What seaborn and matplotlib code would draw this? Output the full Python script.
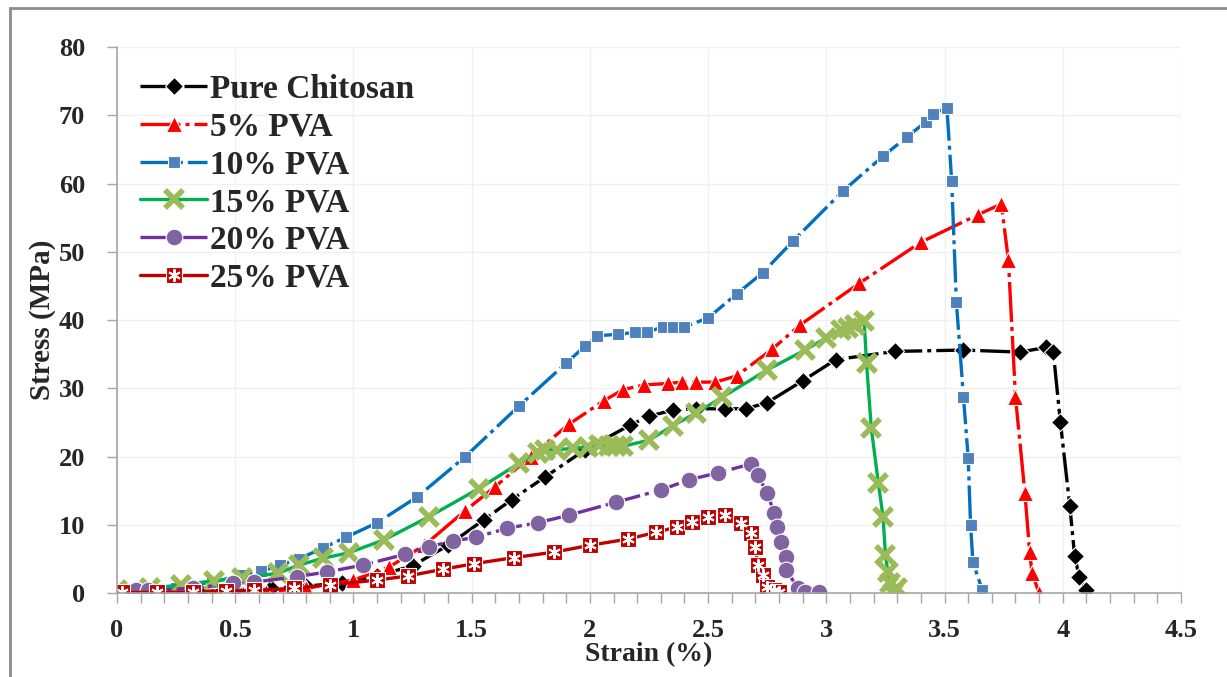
import numpy as np
import pandas as pd
import matplotlib
matplotlib.use("Agg")
import matplotlib.pyplot as plt
import seaborn as sns
from matplotlib.legend_handler import HandlerTuple
from matplotlib.ticker import MultipleLocator
import matplotlib.patches as mpatches

# ---------------- data ----------------
chitosan_x = [0, 0.1, 0.2, 0.35, 0.5, 0.65, 0.8, 0.95, 1.1, 1.25, 1.4, 1.55, 1.67, 1.81, 1.98, 2.17, 2.25, 2.35, 2.45, 2.57, 2.66, 2.75, 2.90, 3.04, 3.29, 3.58, 3.82, 3.93, 3.96, 3.99, 4.03, 4.05, 4.07, 4.10]
chitosan_y = [0, 0.1, 0.2, 0.3, 0.5, 0.7, 1.0, 1.5, 2.5, 4.0, 7.0, 10.7, 13.7, 17.0, 21.0, 24.6, 25.9, 26.8, 27.0, 27.0, 27.0, 27.9, 31.1, 34.2, 35.4, 35.6, 35.3, 36.0, 35.3, 25.0, 12.7, 5.5, 2.3, 0.4]

pva5_x = [0, 0.2, 0.4, 0.63, 0.8, 1.0, 1.15, 1.3, 1.47, 1.6, 1.75, 1.91, 2.06, 2.14, 2.23, 2.33, 2.39, 2.45, 2.53, 2.62, 2.77, 2.89, 3.14, 3.40, 3.64, 3.74, 3.77, 3.80, 3.84, 3.86, 3.87, 3.90]
pva5_y = [0, 0.05, 0.1, 0.2, 0.7, 1.9, 3.8, 7.0, 12.0, 15.6, 20.0, 24.7, 28.2, 29.8, 30.5, 30.7, 30.9, 30.9, 30.9, 31.8, 35.7, 39.3, 45.4, 51.4, 55.4, 57.0, 48.8, 28.7, 14.6, 6.0, 2.9, 0.0]

pva10_x = [0, 0.1, 0.25, 0.4, 0.53, 0.61, 0.69, 0.77, 0.87, 0.97, 1.10, 1.27, 1.47, 1.70, 1.90, 1.98, 2.03, 2.12, 2.19, 2.24, 2.31, 2.35, 2.40, 2.50, 2.62, 2.73, 2.86, 3.07, 3.24, 3.34, 3.42, 3.45, 3.51, 3.53, 3.55, 3.58, 3.60, 3.61, 3.62, 3.66]
pva10_y = [0, 0.3, 0.8, 1.6, 2.6, 3.2, 4.1, 5.0, 6.6, 8.2, 10.3, 14.1, 19.9, 27.4, 33.7, 36.2, 37.7, 37.9, 38.2, 38.2, 39.0, 39.0, 39.0, 40.3, 43.8, 46.9, 51.6, 58.9, 64.0, 66.8, 69.0, 70.2, 71.1, 60.4, 42.6, 28.7, 19.8, 10.0, 4.5, 0.4]

pva15_x = [0, 0.14, 0.27, 0.41, 0.53, 0.68, 0.77, 0.87, 0.98, 1.13, 1.32, 1.53, 1.70, 1.78, 1.81, 1.86, 1.93, 1.99, 2.04, 2.08, 2.11, 2.14, 2.25, 2.35, 2.45, 2.56, 2.75, 2.91, 3.00, 3.06, 3.09, 3.12, 3.16, 3.17, 3.19, 3.22, 3.24, 3.25, 3.26, 3.27, 3.30, 3.28]
pva15_y = [0.4, 0.7, 1.2, 1.8, 2.2, 2.9, 4.1, 5.1, 5.9, 7.8, 11.2, 15.3, 19.0, 20.5, 21.0, 21.0, 21.2, 21.4, 21.7, 21.5, 21.5, 21.5, 22.4, 24.5, 26.4, 28.7, 32.7, 35.6, 37.4, 38.5, 38.8, 39.2, 39.8, 33.7, 24.2, 16.1, 11.1, 5.6, 3.1, 1.4, 0.7, 0.0]

pva20_x = [0.08, 0.13, 0.32, 0.49, 0.58, 0.76, 0.89, 1.04, 1.22, 1.32, 1.42, 1.52, 1.65, 1.78, 1.91, 2.11, 2.30, 2.42, 2.54, 2.68, 2.71, 2.75, 2.78, 2.79, 2.81, 2.83, 2.83, 2.88, 2.91, 2.97]
pva20_y = [0.4, 0.4, 0.7, 1.4, 1.6, 2.4, 3.1, 4.1, 5.7, 6.8, 7.6, 8.2, 9.5, 10.3, 11.4, 13.3, 15.1, 16.6, 17.6, 18.9, 17.3, 14.6, 11.7, 9.7, 7.5, 5.3, 3.4, 0.7, 0.2, 0.2]

pva25_x = [0.02, 0.17, 0.32, 0.46, 0.58, 0.75, 0.90, 1.10, 1.23, 1.38, 1.51, 1.68, 1.85, 2.00, 2.16, 2.28, 2.37, 2.43, 2.50, 2.57, 2.64, 2.68, 2.70, 2.71, 2.73, 2.75, 2.78, 2.80]
pva25_y = [0.1, 0.1, 0.15, 0.3, 0.4, 0.7, 1.2, 1.9, 2.5, 3.5, 4.3, 5.2, 6.0, 7.0, 7.9, 8.9, 9.7, 10.4, 11.1, 11.4, 10.2, 8.8, 6.8, 4.1, 2.6, 0.9, 0.4, 0.1]

labels = ["Pure Chitosan", "5% PVA", "10% PVA", "15% PVA", "20% PVA", "25% PVA"]
x_ticks = [0, 0.5, 1, 1.5, 2, 2.5, 3, 3.5, 4, 4.5]
x_tick_labels = ["0", "0.5", "1", "1.5", "2", "2.5", "3", "3.5", "4", "4.5"]
y_ticks = [0, 10, 20, 30, 40, 50, 60, 70, 80]

# ---------------- style ----------------
sns.set_theme(style="white")
plt.rcParams['font.family'] = ['Liberation Serif', 'DejaVu Serif']
plt.rcParams['font.weight'] = 'bold'

fig = plt.figure(figsize=(12.27, 6.77), dpi=100)
ax = fig.add_axes([0.0954, 0.124, 0.9625 - 0.0954, 0.9306 - 0.124])

series = [
    dict(x=chitosan_x, y=chitosan_y, color="black", ls=(0, (9, 1.5, 1.2, 1.5)), marker="D", ms=9, mfc="black", mec="white", mew=0.8),
    dict(x=pva5_x, y=pva5_y, color="#FF0000", ls=(0, (12, 1.5, 1.2, 1.5)), marker="^", ms=12, mfc="#FF0000", mec="white", mew=0.8),
    dict(x=pva10_x, y=pva10_y, color="#0070C0", ls=(0, (10, 1.5, 1.2, 1.5)), marker="s", ms=9, mfc="#4F81BD", mec="white", mew=0.8),
    dict(x=pva15_x, y=pva15_y, color="#00B050", ls="-", marker="x", ms=13, mfc="#9BBB59", mec="#9BBB59", mew=4),
    dict(x=pva20_x, y=pva20_y, color="#7030A0", ls=(0, (8, 1.5, 1.2, 1.5)), marker="o", ms=12, mfc="#8064A2", mec="white", mew=0.8),
    dict(x=pva25_x, y=pva25_y, color="#C00000", ls="-", marker="s", ms=12, mfc="#C00000", mec="white", mew=0.8),
]

for s, lab in zip(series, labels):
    df = pd.DataFrame({"Strain": s["x"], "Stress": s["y"]})
    sns.lineplot(data=df, x="Strain", y="Stress", ax=ax, sort=False, estimator=None,
                 color=s["color"], linestyle=s["ls"], linewidth=2.4,
                 marker=s["marker"], markersize=s["ms"], markerfacecolor=s["mfc"],
                 markeredgecolor=s["mec"], markeredgewidth=s["mew"], label=lab)

# white asterisk decoration on 25% PVA squares
star_line, = ax.plot(pva25_x, pva25_y, linestyle="none", marker=(6, 2, 0), markersize=9,
                     markeredgecolor="white", markeredgewidth=1.4)

# ---------------- axes ----------------
ax.set_xlim(0, 4.5)
ax.set_ylim(0, 80)
ax.set_xticks(x_ticks)
ax.set_xticklabels(x_tick_labels)
ax.set_yticks(y_ticks)
ax.xaxis.set_minor_locator(MultipleLocator(0.1))
ax.tick_params(axis="both", which="major", labelsize=19, length=7, width=1, color="#A6A6A6",
               direction="out", bottom=True, left=True)
ax.tick_params(axis="x", which="minor", length=7, width=1, color="#A6A6A6", direction="out", bottom=True)
ax.tick_params(axis="x", pad=12)
ax.tick_params(axis="y", pad=16)
for lab in ax.get_xticklabels() + ax.get_yticklabels():
    lab.set_fontweight("bold")

ax.grid(True, which="major", color="#F0F0F0", linewidth=1)
ax.set_axisbelow(True)
for sp in ["top", "right"]:
    ax.spines[sp].set_visible(False)
for sp in ["left", "bottom"]:
    ax.spines[sp].set_color("#A6A6A6")
    ax.spines[sp].set_linewidth(1.2)

ax.set_xlabel("Strain (%)", fontsize=20, fontweight="bold", labelpad=0)
ax.set_ylabel("Stress (MPa)", fontsize=21, fontweight="bold", labelpad=2)

handles, labs = ax.get_legend_handles_labels()
handles = handles[:6]
handles[5] = (handles[5], star_line)
leg = ax.legend(handles, labels, loc="upper left", bbox_to_anchor=(0.0, 0.993), frameon=False,
                prop={"family": "Liberation Serif", "weight": "bold", "size": 24},
                handlelength=2.0, handletextpad=0.1, labelspacing=0.2, borderaxespad=0.3,
                handler_map={tuple: HandlerTuple(ndivide=1)})

# outer chart border
fig.patches.append(mpatches.Rectangle((10 / 1227, -0.05), 1.2, 1 - 8 / 677 + 0.05,
                                      transform=fig.transFigure, fill=False,
                                      edgecolor="#8C8C8C", linewidth=2))

fig.savefig("out.png", dpi=100)
